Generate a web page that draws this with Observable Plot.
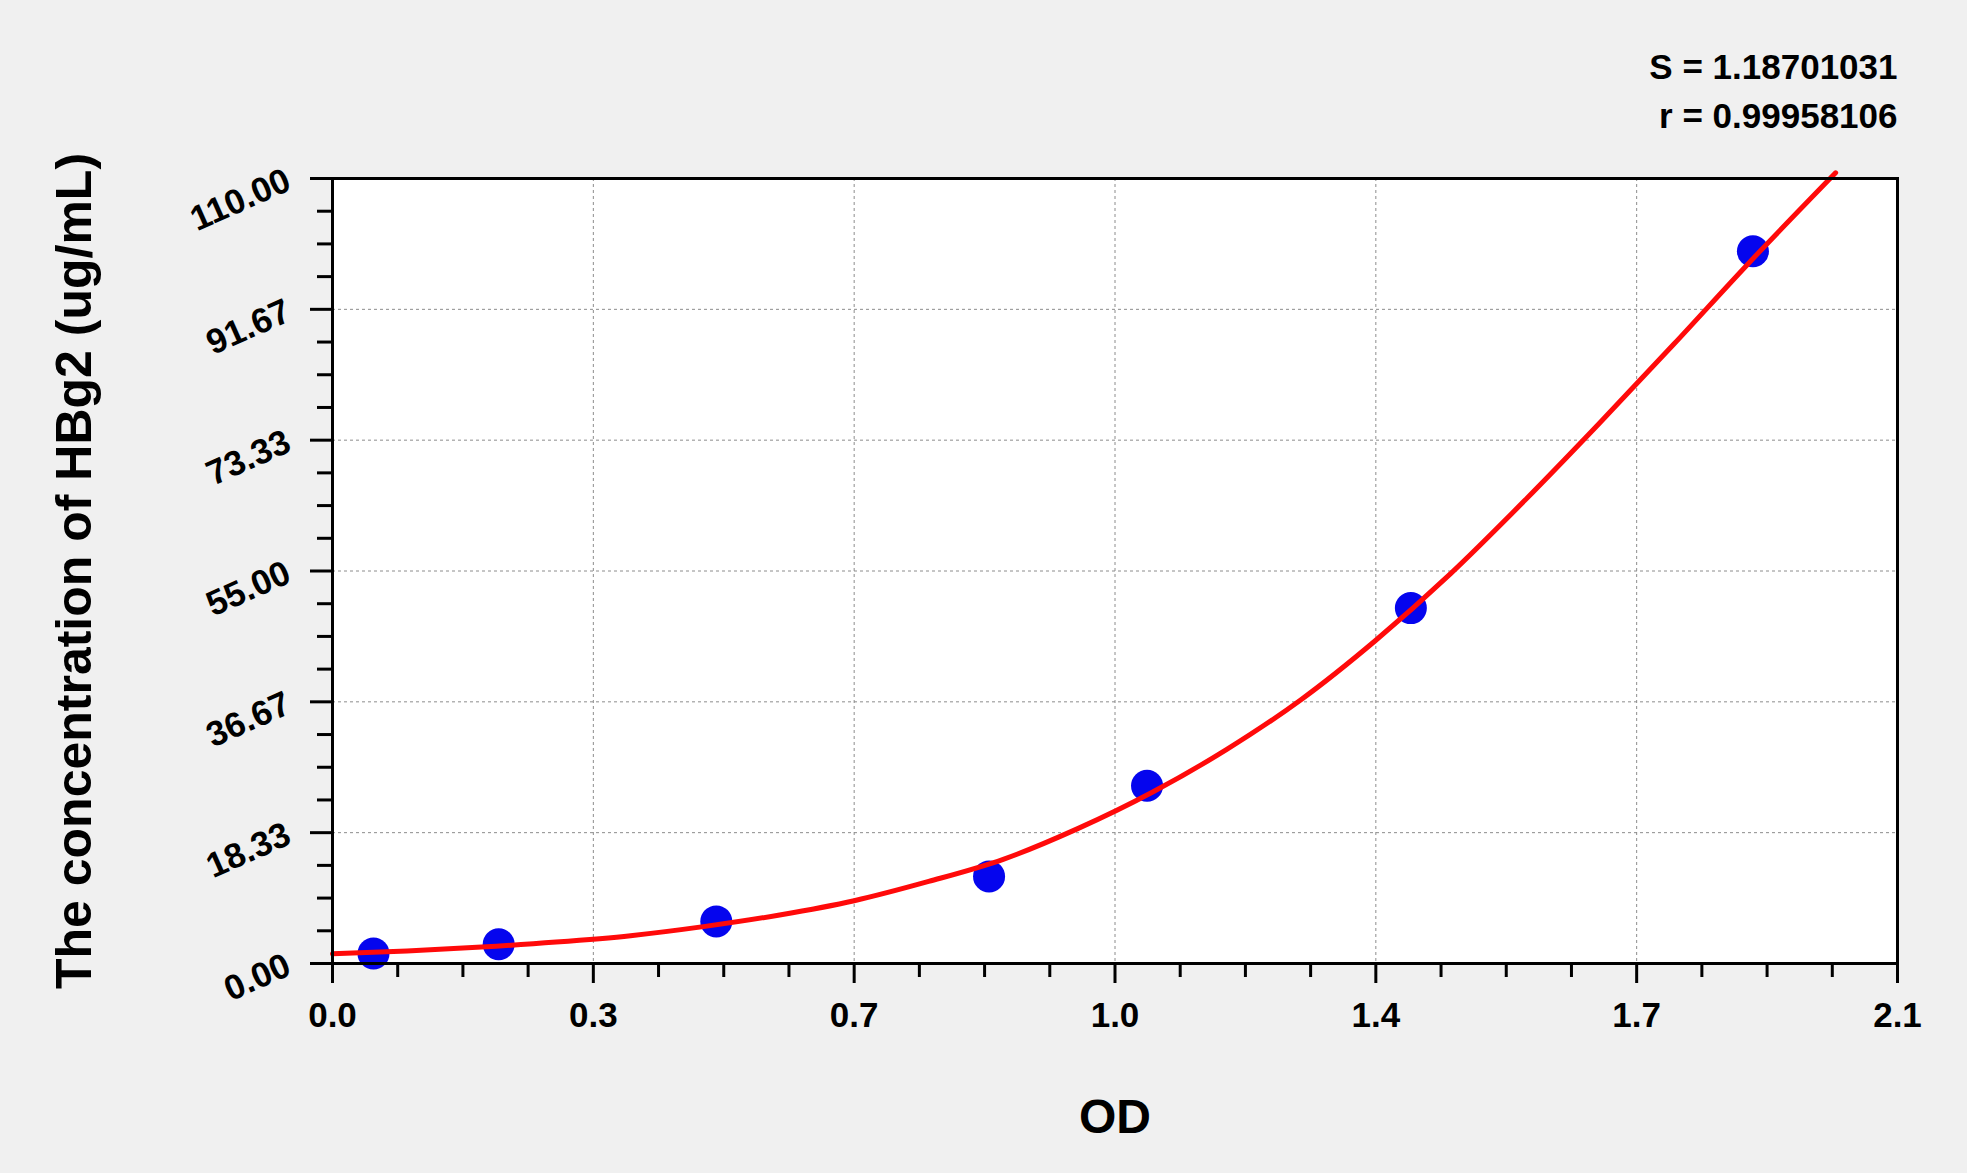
<!DOCTYPE html>
<html>
<head>
<meta charset="utf-8">
<script src="https://cdn.jsdelivr.net/npm/d3@7"></script>
<script src="https://cdn.jsdelivr.net/npm/@observablehq/plot@0.6"></script>
<style>
  html, body { margin: 0; padding: 0; background: #f0f0f0; }
  #chart svg { display: block; }
</style>
</head>
<body>
<div id="chart"></div>
<script>
// Standard points (OD vs concentration)
const odValues   = [0.055, 0.223, 0.515, 0.881, 1.093, 1.447, 1.906];
const concValues = [1.4, 2.7, 5.9, 12.2, 24.9, 49.8, 99.8];

// Fitted curve
const curveOD   = [0, 0.1, 0.2, 0.3, 0.4, 0.5, 0.6, 0.7, 0.8, 0.9, 1.0, 1.1, 1.2, 1.3, 1.4, 1.5, 1.6, 1.7, 1.8, 1.9, 2.017];
const curveConc = [1.36, 1.75, 2.3, 3.0, 3.9, 5.2, 6.8, 8.8, 11.5, 14.6, 18.9, 24.0, 30.0, 37.0, 45.3, 54.6, 64.9, 75.7, 86.8, 98.1, 110.8];

// Axis ticks and labels
const xTicks = [0, 0.35, 0.7, 1.05, 1.4, 1.75, 2.1];
const xTickLabels = ["0.0", "0.3", "0.7", "1.0", "1.4", "1.7", "2.1"];
const yTicks = [0, 18.333, 36.667, 55, 73.333, 91.667, 110];
const yTickLabels = ["0.00", "18.33", "36.67", "55.00", "73.33", "91.67", "110.00"];
const xMinorTicks = d3.range(0, 25).map(i => i * 2.1 / 24).filter((d, i) => i % 4 !== 0);
const yMinorTicks = d3.range(0, 25).map(i => i * 110 / 24).filter((d, i) => i % 4 !== 0);

const statLines = ["S = 1.18701031", "r = 0.99958106"];
const xLabel = "OD";
const yLabel = "The concentration of HBg2 (ug/mL)";

const points = odValues.map((x, i) => ({x, y: concValues[i]}));
const curve = curveOD.map((x, i) => ({x, y: curveConc[i]}));

const FONT = "'Liberation Sans', Arial, sans-serif";
const TICKFS = 35;

const chart = Plot.plot({
  width: 1967,
  height: 1173,
  marginLeft: 332,
  marginRight: 70,
  marginTop: 178,
  marginBottom: 210,
  style: {background: "#f0f0f0", fontFamily: FONT, overflow: "visible"},
  x: {domain: [0, 2.1], axis: null},
  y: {domain: [0, 110], axis: null},
  marks: [
    Plot.frame({fill: "white", stroke: null}),
    Plot.gridX(xTicks.slice(1, -1), {stroke: "#8c8c8c", strokeOpacity: 1, strokeDasharray: "3,3", strokeWidth: 1}),
    Plot.gridY(yTicks.slice(1, -1), {stroke: "#8c8c8c", strokeOpacity: 1, strokeDasharray: "3,3", strokeWidth: 1}),
    Plot.dot(points, {x: "x", y: "y", r: 16, fill: "#0505ee", stroke: null}),
    Plot.line(curve, {x: "x", y: "y", stroke: "#ff0a0a", strokeWidth: 5, curve: "monotone-x"}),
    Plot.frame({stroke: "black", strokeWidth: 3}),
    // x ticks
    Plot.axisX(xMinorTicks, {tickSize: 14, strokeWidth: 3, stroke: "black", tickFormat: () => "", label: null}),
    Plot.axisX(xTicks, {tickSize: 20, strokeWidth: 3, stroke: "black", tickFormat: () => "", label: null}),
    Plot.text(xTicks, {x: d => d, frameAnchor: "bottom", dy: 52, lineAnchor: "middle", textAnchor: "middle",
      text: (d, i) => xTickLabels[i], fontSize: TICKFS, fontWeight: "bold", fill: "black"}),
    // y ticks
    Plot.axisY(yMinorTicks, {tickSize: 15, strokeWidth: 3, stroke: "black", tickFormat: () => "", label: null}),
    Plot.axisY(yTicks, {tickSize: 22, strokeWidth: 3, stroke: "black", tickFormat: () => "", label: null}),
    Plot.text(yTicks, {y: d => d, frameAnchor: "left", dx: -44, dy: 0, rotate: -24,
      textAnchor: "end", lineAnchor: "middle",
      text: (d, i) => yTickLabels[i], fontSize: TICKFS, fontWeight: "bold", fill: "black"}),
    // stats
    Plot.text([statLines[0]], {frameAnchor: "top-right", dy: -100, textAnchor: "end", lineAnchor: "bottom",
      text: d => d, fontSize: 35, fontWeight: "bold", fill: "black"}),
    Plot.text([statLines[1]], {frameAnchor: "top-right", dy: -51, textAnchor: "end", lineAnchor: "bottom",
      text: d => d, fontSize: 35, fontWeight: "bold", fill: "black"}),
    // axis labels
    Plot.text([xLabel], {frameAnchor: "bottom", dy: 169, lineAnchor: "bottom", textAnchor: "middle",
      text: d => d, fontSize: 48, fontWeight: "bold", fill: "black"}),
    Plot.text([yLabel], {frameAnchor: "left", dx: -242, rotate: -90, lineAnchor: "bottom", textAnchor: "middle",
      text: d => d, fontSize: 50, fontWeight: "bold", fill: "black"})
  ]
});

document.getElementById("chart").appendChild(chart);
</script>
</body>
</html>
